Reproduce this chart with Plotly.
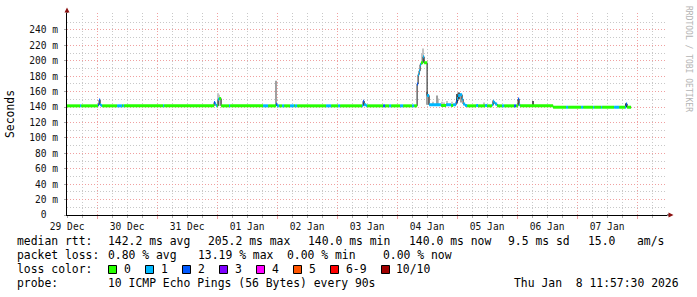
import plotly.graph_objects as go

W, H = 697, 297

# ---------------- data ----------------
x_range = ["2025-12-29 11:57:30", "2026-01-08 11:57:30"]

med_time = [
    "2025-12-29 11:58", "2025-12-29 17:12", "2025-12-29 17:36", "2025-12-30 00:24", "2025-12-30 00:48",
    "2025-12-30 01:12", "2025-12-30 01:36", "2025-12-30 02:00", "2025-12-30 08:00", "2025-12-30 10:00",
    "2025-12-30 10:24", "2025-12-30 10:48", "2025-12-31 02:24", "2025-12-31 02:48", "2025-12-31 22:48",
    "2025-12-31 23:12", "2025-12-31 23:36", "2026-01-01 00:00", "2026-01-01 00:24", "2026-01-01 00:48",
    "2026-01-01 01:36", "2026-01-01 04:48", "2026-01-01 05:12", "2026-01-01 18:24", "2026-01-01 20:24",
    "2026-01-01 23:36", "2026-01-02 00:00", "2026-01-02 00:48", "2026-01-02 02:00", "2026-01-02 02:48",
    "2026-01-02 05:12", "2026-01-02 06:48", "2026-01-02 07:12", "2026-01-02 08:00", "2026-01-02 19:36",
    "2026-01-02 21:36", "2026-01-03 00:24", "2026-01-03 01:12", "2026-01-03 10:00", "2026-01-03 10:24",
    "2026-01-03 10:48", "2026-01-03 11:36", "2026-01-03 12:00", "2026-01-03 18:24", "2026-01-03 19:12",
    "2026-01-03 20:48", "2026-01-03 21:36", "2026-01-04 01:12", "2026-01-04 02:24", "2026-01-04 06:00",
    "2026-01-04 06:48", "2026-01-04 08:00", "2026-01-04 08:24", "2026-01-04 08:48", "2026-01-04 09:12",
    "2026-01-04 09:36", "2026-01-04 10:24", "2026-01-04 10:48", "2026-01-04 12:00", "2026-01-04 12:48",
    "2026-01-04 17:36", "2026-01-04 19:36", "2026-01-04 21:36", "2026-01-04 22:24", "2026-01-04 23:36",
    "2026-01-05 00:00", "2026-01-05 00:24", "2026-01-05 01:12", "2026-01-05 02:00", "2026-01-05 02:24",
    "2026-01-05 03:12", "2026-01-05 04:00", "2026-01-05 07:36", "2026-01-05 08:24", "2026-01-05 11:12",
    "2026-01-05 12:00", "2026-01-05 14:00", "2026-01-05 14:24", "2026-01-05 14:48", "2026-01-05 15:12",
    "2026-01-05 16:00", "2026-01-05 18:00", "2026-01-05 18:48", "2026-01-05 22:48", "2026-01-05 23:36",
    "2026-01-06 00:24", "2026-01-06 00:48", "2026-01-06 01:12", "2026-01-06 14:24", "2026-01-06 19:36",
    "2026-01-06 20:24", "2026-01-07 01:36", "2026-01-07 02:24", "2026-01-07 06:24", "2026-01-07 06:48",
    "2026-01-07 09:36", "2026-01-07 10:00", "2026-01-07 14:48", "2026-01-07 16:48", "2026-01-07 19:12",
    "2026-01-07 19:36", "2026-01-07 20:00", "2026-01-07 21:36",
]
med_ms = [
    141.6, 141.6, 141.6, 143.0, 149.0,
    143.0, 142.0, 141.6, 141.6, 141.6,
    141.6, 141.6, 141.6, 141.6, 146.0,
    144.0, 141.6, 141.6, 150.0, 151.0,
    141.6, 141.6, 141.6, 141.6, 141.6,
    143.5, 141.6, 141.6, 141.6, 141.6,
    141.6, 141.6, 141.6, 141.6, 141.6,
    141.6, 141.6, 141.6, 141.6, 147.5,
    143.0, 141.6, 141.6, 141.6, 141.6,
    141.6, 141.6, 141.6, 141.6, 141.6,
    141.6, 170.0, 182.0, 187.0, 195.0,
    197.5, 205.2, 197.5, 155.0, 143.0,
    142.0, 143.0, 142.0, 143.0, 147.0,
    151.0, 155.0, 156.0, 150.0, 144.0,
    142.0, 141.6, 142.0, 141.6, 142.0,
    141.6, 143.0, 147.5, 146.0, 144.0,
    141.6, 141.6, 141.6, 141.6, 141.6,
    150.5, 143.0, 141.6, 139.8, 139.8,
    139.8, 139.8, 139.8, 139.8, 139.8,
    139.8, 139.8, 139.8, 139.8, 139.8,
    144.0, 139.8, 139.8,
]
med_loss = [
    0, 1, 0, 2, 2,
    1, 1, 0, 1, 0,
    1, 0, 1, 0, 2,
    1, 1, 0, 1, 0,
    0, 1, 0, 1, 0,
    2, 1, 0, 1, 0,
    1, 0, 1, 0, 1,
    0, 1, 0, 1, 2,
    1, 1, 0, 2, 0,
    1, 0, 1, 0, 1,
    0, 2, 1, 1, 1,
    0, 1, 0, 1, 1,
    0, 1, 0, 1, 2,
    1, 1, 1, 1, 1,
    1, 0, 1, 0, 1,
    0, 1, 1, 1, 1,
    0, 1, 0, 2, 0,
    2, 1, 0, 0, 1,
    0, 1, 0, 1, 0,
    1, 0, 1, 0, 1,
    2, 0, 0,
]

smoke_time = [
    "2026-01-01 00:24", "2026-01-01 00:48", "2026-01-01 01:12", "2026-01-01 23:36", "2026-01-03 10:48",
    "2026-01-04 10:00", "2026-01-04 10:24", "2026-01-04 12:00", "2026-01-04 12:24", "2026-01-04 14:24",
    "2026-01-04 16:00", "2026-01-04 16:24", "2026-01-04 18:00", "2026-01-04 18:48", "2026-01-04 20:00",
    "2026-01-04 22:00", "2026-01-05 00:00", "2026-01-05 00:24", "2026-01-05 00:48", "2026-01-05 01:12",
    "2026-01-05 01:36", "2026-01-05 10:48", "2026-01-05 14:24", "2026-01-06 06:24", "2026-01-07 19:36",
]
smoke_low = [
    141.6, 141.6, 141.6, 141.6, 141.6,
    197.5, 205.0, 143.0, 143.0, 141.6,
    141.6, 141.6, 141.6, 141.6, 141.6,
    141.6, 145.0, 148.0, 150.0, 150.0,
    146.0, 141.6, 141.6, 141.6, 139.8,
]
smoke_high = [
    158.0, 156.0, 153.0, 174.0, 148.0,
    210.0, 216.0, 160.0, 157.0, 147.0,
    155.0, 151.0, 147.0, 146.0, 148.0,
    147.0, 157.0, 159.0, 159.0, 158.0,
    156.0, 146.0, 149.0, 148.0, 145.0,
]
smoke_shade = [
    0, 0, 0, 1, 0,
    0, 0, 1, 1, 0,
    1, 0, 0, 0, 0,
    0, 2, 1, 2, 1,
    1, 0, 0, 2, 2,
]

day_label_time = ["2025-12-29 12:00", "2025-12-30 12:00", "2025-12-31 12:00", "2026-01-01 12:00",
                  "2026-01-02 12:00", "2026-01-03 12:00", "2026-01-04 12:00", "2026-01-05 12:00",
                  "2026-01-06 12:00", "2026-01-07 12:00"]
day_label_text = ["29 Dec", "30 Dec", "31 Dec", "01 Jan", "02 Jan", "03 Jan", "04 Jan", "05 Jan",
                  "06 Jan", "07 Jan"]

y_tick_vals = [0, 20, 40, 60, 80, 100, 120, 140, 160, 180, 200, 220, 240]
y_tick_text = ["0\u00a0\u00a0"] + [f"{v} m" for v in y_tick_vals[1:]]
y_minor_vals = [10, 30, 50, 70, 90, 110, 130, 150, 170, 190, 210, 230, 250]

loss_labels = ["0", "1", "2", "3", "4", "5", "6-9", "10/10"]
loss_colors = ["#26ff00", "#00b8ff", "#0059ff", "#7e00ff", "#ff00ff", "#ff5500", "#ff0000", "#a10000"]
smoke_colors = ["#c4c4c4", "#a0a0a0", "#5a5a5a"]

stats_rtt = ["142.2 ms avg", "205.2 ms max", "140.0 ms min", "140.0 ms now", "9.5 ms sd", "15.0", "am/s"]
stats_loss = ["0.80 % avg", "13.19 % max", "0.00 % min", "0.00 % now"]
probe_text = "10 ICMP Echo Pings (56 Bytes) every 90s"
stamp_text = "Thu Jan  8 11:57:30 2026"

# ---------------- style ----------------
MONO = "DejaVu Sans Mono"
MAJOR = "rgb(240,160,160)"
MINOR = "rgb(200,200,200)"
DASH = "1px,2px"
X0, X1, YTOP, YBOT = 67, 667, 13, 215


def px(x):
    return x / W


def py(y):
    return 1 - y / H


fig = go.Figure()

# smoke
for s, col in enumerate(smoke_colors):
    idx = [i for i, v in enumerate(smoke_shade) if v == s]
    fig.add_trace(go.Bar(
        x=[smoke_time[i] for i in idx],
        y=[smoke_high[i] - smoke_low[i] for i in idx],
        base=[smoke_low[i] for i in idx],
        width=2000000, marker=dict(color=col, line=dict(width=0)),
        hoverinfo="skip",
    ))

# dark median outline (step line)
fig.add_trace(go.Scatter(x=med_time, y=med_ms, mode="lines",
                         line=dict(color="#1a1a1a", width=1, shape="hv"), hoverinfo="skip"))

# loss-coloured median segments
for k, col in enumerate(loss_colors):
    xs, ys = [], []
    for i in range(len(med_time) - 1):
        if med_loss[i] == k:
            xs += [med_time[i], med_time[i + 1], None]
            ys += [med_ms[i], med_ms[i], None]
    if xs:
        fig.add_trace(go.Scatter(x=xs, y=ys, mode="lines", line=dict(color=col, width=3),
                                 hoverinfo="skip"))

# invisible trace for label axis
fig.add_trace(go.Scatter(x=day_label_time, y=[None] * len(day_label_time), xaxis="x2",
                         mode="markers", hoverinfo="skip"))

fig.update_layout(
    width=W, height=H, margin=dict(l=0, r=0, t=0, b=0, pad=0, autoexpand=False),
    paper_bgcolor="white", plot_bgcolor="white", showlegend=False, barmode="overlay",
    xaxis=dict(
        domain=[px(X0), px(X1)], type="date", range=x_range, automargin=False,
        showgrid=True, gridcolor=MAJOR, griddash=DASH, gridwidth=1,
        tick0="2025-12-30 00:00", dtick=86400000, showticklabels=False,
        ticks="outside", ticklen=3, tickcolor=MAJOR,
        minor=dict(tick0="2025-12-30 00:00", dtick=6 * 3600000, showgrid=True, gridcolor=MINOR,
                   griddash=DASH, ticks="outside", ticklen=2, tickcolor="#aaaaaa"),
        showline=True, linecolor="black", linewidth=1, zeroline=False, fixedrange=True,
    ),
    xaxis2=dict(
        overlaying="x", anchor="y", type="date", range=x_range, side="bottom", automargin=False,
        tickvals=day_label_time, ticktext=day_label_text, showgrid=False, ticks="",
        tickfont=dict(family=MONO, size=9.6, color="#111"), ticklabelstandoff=4,
        zeroline=False, showline=False, fixedrange=True,
    ),
    yaxis=dict(
        domain=[py(YBOT), py(YTOP)], range=[0, 262], automargin=False,
        tickvals=y_tick_vals, ticktext=y_tick_text,
        tickfont=dict(family=MONO, size=9.6, color="#111"),
        showgrid=True, gridcolor=MAJOR, griddash=DASH, gridwidth=1,
        ticks="outside", ticklen=2, tickcolor="#aaaaaa", ticklabelstandoff=4,
        minor=dict(tickvals=y_minor_vals, showgrid=True, gridcolor=MINOR, griddash=DASH),
        showline=True, linecolor="black", linewidth=1, zeroline=False, fixedrange=True,
    ),
)

shapes = []
# axis extension + arrows
shapes.append(dict(type="line", xref="paper", yref="paper", x0=px(X0), x1=px(X0), y0=py(YTOP), y1=py(11),
                   line=dict(color="black", width=1)))
shapes.append(dict(type="line", xref="paper", yref="paper", x0=px(X1), x1=px(669), y0=py(YBOT), y1=py(YBOT),
                   line=dict(color="black", width=1)))
shapes.append(dict(type="path", xref="paper", yref="paper",
                   path=f"M {px(64.5)},{py(12.5)} L {px(69.5)},{py(12.5)} L {px(67)},{py(7.5)} Z",
                   fillcolor="#8b1010", line=dict(width=0)))
shapes.append(dict(type="path", xref="paper", yref="paper",
                   path=f"M {px(668.5)},{py(212.5)} L {px(668.5)},{py(217.5)} L {px(673.5)},{py(215)} Z",
                   fillcolor="#8b1010", line=dict(width=0)))

annotations = []


def txt(x, y, s, size=11.4, color="black", angle=0, xanchor="left"):
    annotations.append(dict(xref="paper", yref="paper", x=px(x), y=py(y), text=s.replace(" ", "\u00a0"),
                            showarrow=False, xanchor=xanchor, yanchor="middle", borderpad=0,
                            textangle=angle, font=dict(family=MONO, size=size, color=color)))


# axis title and watermark
txt(10, 114, "Seconds", angle=-90, xanchor="center")
txt(688, 59, "RRDTOOL / TOBI OETIKER", size=8, color="#b4b4b4", angle=90, xanchor="center")

# legend rows
R1, R2, R3, R4 = 241, 255, 269, 283
txt(16, R1, "median rtt:")
for xp, s in zip([107, 207, 306.5, 408, 506.5, 586.5, 635.5], stats_rtt):
    txt(xp, R1, s)
txt(16, R2, "packet loss:")
for xp, s in zip([107, 196.5, 286, 381.5], stats_loss):
    txt(xp, R2, s)
txt(16, R3, "loss color:")
box_x = [108.5, 145.5, 182.5, 219.5, 256.5, 293.5, 330.5, 381.5]
for bx, lab, col in zip(box_x, loss_labels, loss_colors):
    shapes.append(dict(type="rect", xref="paper", yref="paper", x0=px(bx), x1=px(bx + 8),
                       y0=py(265.5), y1=py(273.5), fillcolor=col, line=dict(color="black", width=1)))
    txt(bx + 14, R3, lab)
txt(16, R4, "probe:")
txt(107, R4, probe_text)
txt(513, R4, stamp_text)

fig.update_layout(shapes=shapes, annotations=annotations)
fig.write_html("out.html")
